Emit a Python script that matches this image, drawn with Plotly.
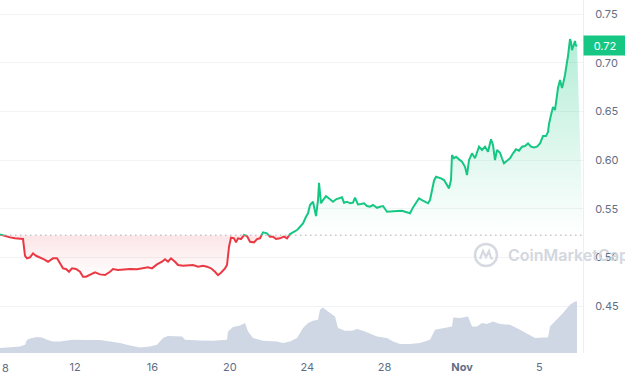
import pandas as pd
import plotly.graph_objects as go

# ---------------- data ----------------
start_date = pd.Timestamp("2023-10-08")

# price samples: day offset from Oct 8 00:00 and price in USD
price_days = [
    0.124, 0.382, 0.641, 0.899, 1.158, 1.313, 1.416, 1.519, 1.674, 1.829,
    1.984, 2.191, 2.398, 2.605, 2.760, 2.863, 3.070, 3.225, 3.380, 3.535,
    3.690, 3.845, 4.052, 4.258, 4.413, 4.568, 4.775, 5.034, 5.292, 5.550,
    5.809, 5.964, 6.222, 6.481, 6.842, 7.204, 7.514, 7.773, 7.979, 8.238,
    8.496, 8.651, 8.806, 8.961, 9.168, 9.323, 9.581, 9.840, 10.098, 10.357,
    10.615, 10.822, 11.028, 11.235, 11.390, 11.545, 11.752, 11.855, 11.959, 12.062,
    12.217, 12.320, 12.424, 12.579, 12.734, 12.889, 13.044, 13.251, 13.406, 13.561,
    13.716, 13.922, 14.077, 14.232, 14.388, 14.594, 14.801, 14.956, 15.111, 15.266,
    15.473, 15.628, 15.783, 15.938, 16.041, 16.145, 16.300, 16.455, 16.558, 16.610,
    16.713, 16.816, 16.971, 17.178, 17.333, 17.488, 17.695, 17.798, 17.902, 18.057,
    18.212, 18.367, 18.470, 18.625, 18.780, 18.935, 19.090, 19.245, 19.400, 19.607,
    19.762, 19.917, 20.124, 20.382, 20.641, 20.899, 21.106, 21.313, 21.468, 21.623,
    21.778, 21.933, 22.088, 22.243, 22.346, 22.450, 22.553, 22.656, 22.760, 22.915,
    23.070, 23.225, 23.328, 23.431, 23.483, 23.587, 23.690, 23.845, 24.000, 24.155,
    24.258, 24.362, 24.517, 24.672, 24.775, 24.879, 25.034, 25.189, 25.344, 25.447,
    25.499, 25.602, 25.705, 25.809, 25.964, 26.067, 26.171, 26.326, 26.481, 26.636,
    26.791, 26.946, 27.101, 27.256, 27.411, 27.566, 27.721, 27.876, 28.031, 28.186,
    28.341, 28.444, 28.496, 28.599, 28.703, 28.806, 28.909, 28.961, 29.065, 29.168,
    29.220, 29.323, 29.426, 29.478, 29.581, 29.633, 29.685, 29.736, 29.840, 29.891,
    29.943,
]
price = [
    0.5238, 0.5221, 0.5207, 0.5197, 0.5197, 0.5190, 0.5018, 0.4992, 0.5002, 0.5043,
    0.5018, 0.5002, 0.4982, 0.4957, 0.4974, 0.4992, 0.4992, 0.4940, 0.4889, 0.4882,
    0.4854, 0.4889, 0.4882, 0.4854, 0.4803, 0.4803, 0.4820, 0.4848, 0.4827, 0.4820,
    0.4854, 0.4882, 0.4872, 0.4879, 0.4882, 0.4879, 0.4889, 0.4899, 0.4889, 0.4930,
    0.4957, 0.4982, 0.4957, 0.4992, 0.4957, 0.4923, 0.4916, 0.4923, 0.4923, 0.4906,
    0.4916, 0.4906, 0.4889, 0.4854, 0.4820, 0.4844, 0.4889, 0.4923, 0.5111, 0.5203,
    0.5197, 0.5156, 0.5197, 0.5190, 0.5231, 0.5221, 0.5162, 0.5156, 0.5190, 0.5197,
    0.5259, 0.5248, 0.5214, 0.5214, 0.5190, 0.5197, 0.5214, 0.5197, 0.5241, 0.5255,
    0.5282, 0.5316, 0.5351, 0.5419, 0.5454, 0.5539, 0.5573, 0.5426, 0.5590, 0.5768,
    0.5557, 0.5590, 0.5631, 0.5598, 0.5573, 0.5598, 0.5608, 0.5618, 0.5563, 0.5573,
    0.5557, 0.5563, 0.5614, 0.5546, 0.5549, 0.5557, 0.5529, 0.5522, 0.5539, 0.5511,
    0.5522, 0.5529, 0.5470, 0.5470, 0.5477, 0.5480, 0.5470, 0.5454, 0.5515, 0.5557,
    0.5608, 0.5590, 0.5573, 0.5557, 0.5590, 0.5676, 0.5789, 0.5830, 0.5826, 0.5813,
    0.5796, 0.5744, 0.5710, 0.5796, 0.6052, 0.6019, 0.6035, 0.6008, 0.5984, 0.5932,
    0.5847, 0.6001, 0.6070, 0.6019, 0.6070, 0.6138, 0.6104, 0.6138, 0.6086, 0.6172,
    0.6214, 0.6155, 0.6001, 0.6104, 0.6076, 0.6019, 0.5967, 0.5994, 0.6019, 0.6070,
    0.6111, 0.6097, 0.6138, 0.6145, 0.6172, 0.6138, 0.6131, 0.6138, 0.6172, 0.6247,
    0.6247, 0.6289, 0.6371, 0.6463, 0.6545, 0.6514, 0.6658, 0.6740, 0.6822, 0.6740,
    0.6781, 0.6874, 0.7007, 0.7069, 0.7243, 0.7213, 0.7130, 0.7171, 0.7223, 0.7171,
    0.7182,
]

# trading volume samples (millions USD, relative)
volume_days = [
    0.124, 0.641, 1.158, 1.416, 1.519, 1.778, 2.036, 2.295, 2.553, 2.863,
    3.225, 3.587, 3.897, 4.620, 5.292, 5.809, 6.326, 6.842, 7.359, 7.876,
    8.238, 8.548, 8.806, 9.530, 9.685, 10.460, 11.132, 11.855, 11.907, 12.165,
    12.527, 12.786, 12.941, 13.199, 13.716, 14.439, 14.749, 15.111, 15.473, 15.783,
    16.041, 16.300, 16.558, 16.661, 16.816, 17.075, 17.437, 17.592, 17.953, 18.315,
    18.574, 18.884, 19.245, 19.607, 20.124, 20.434, 20.796, 21.313, 21.829, 22.346,
    22.605, 23.018, 23.483, 23.550, 23.897, 24.310, 24.517, 24.775, 25.034, 25.292,
    25.602, 25.964, 26.481, 26.997, 27.359, 27.773, 28.186, 28.444, 28.548, 28.909,
    29.220, 29.581, 29.840, 29.943,
]
volume_m = [
    2.0, 2.2, 2.6, 3.3, 5.3, 6.0, 6.4, 6.2, 5.3, 4.6,
    4.6, 5.0, 5.3, 5.2, 5.2, 4.6, 4.0, 3.0, 2.2, 2.6,
    3.3, 6.0, 6.8, 6.6, 5.3, 5.0, 4.9, 5.3, 8.6, 10.4,
    11.0, 12.0, 8.6, 6.0, 4.9, 4.6, 4.0, 4.6, 6.0, 10.0,
    12.0, 12.9, 13.3, 17.3, 18.2, 16.6, 14.6, 10.0, 8.9, 8.9,
    9.6, 8.9, 7.6, 6.6, 6.0, 4.6, 3.6, 3.6, 4.0, 5.3,
    9.3, 10.0, 10.6, 14.2, 14.0, 14.6, 10.6, 10.6, 12.0, 11.6,
    12.6, 11.6, 11.3, 9.3, 7.6, 6.0, 6.2, 6.2, 10.6, 13.3,
    16.0, 19.3, 20.6, 20.6,
]

baseline_price = 0.523
last_price_text = "0.72"

x_tick_dates = ["2023-10-12", "2023-10-16", "2023-10-20", "2023-10-24",
                "2023-10-28", "2023-11-01", "2023-11-05"]
x_tick_text = ["12", "16", "20", "24", "28", "<b>Nov</b>", "5"]
first_day_label = "8"
y_tick_vals = [0.45, 0.50, 0.55, 0.60, 0.65, 0.70, 0.75]
y_tick_text = ["0.45", "0.50", "0.55", "0.60", "0.65", "0.70", "0.75"]

# ---------------- styling ----------------
GREEN = "#16c784"
RED = "#ea3943"
VOL = "#cfd6e4"
LABEL = "#616e85"
FONT = "Inter, Roboto, sans-serif"

x_range = ["2023-10-08 02:58", "2023-11-07 06:04"]
y_range = [0.402, 0.7644]
vol_range = [0, 141.2]
split = (baseline_price - y_range[0]) / (y_range[1] - y_range[0])

price_t = start_date + pd.to_timedelta(price_days, unit="D")
vol_t = start_date + pd.to_timedelta(volume_days, unit="D")

fig = go.Figure()

# dotted reference line (opening price)
fig.add_trace(go.Scatter(
    x=x_range, y=[baseline_price, baseline_price], mode="lines",
    line=dict(color="#a9b0bc", width=1, dash="1.5px,3.5px"),
    hoverinfo="skip", showlegend=False, xaxis="x", yaxis="y"))

# red part (clipped below baseline via axis domain)
fig.add_trace(go.Scatter(
    x=x_range, y=[baseline_price, baseline_price], mode="lines",
    line=dict(width=0, color="rgba(0,0,0,0)"), hoverinfo="skip",
    showlegend=False, xaxis="x", yaxis="y2"))
fig.add_trace(go.Scatter(
    x=price_t, y=price, mode="lines", fill="tonexty",
    fillcolor="rgba(234,57,67,0.08)",
    fillgradient=dict(type="vertical", start=0.478, stop=baseline_price,
                      colorscale=[[0, "rgba(234,57,67,0)"], [1, "rgba(234,57,67,0.13)"]]),
    line=dict(color=RED, width=2), hoverinfo="skip", showlegend=False,
    xaxis="x", yaxis="y2"))

# green part (clipped above baseline)
fig.add_trace(go.Scatter(
    x=x_range, y=[baseline_price, baseline_price], mode="lines",
    line=dict(width=0, color="rgba(0,0,0,0)"), hoverinfo="skip",
    showlegend=False, xaxis="x", yaxis="y3"))
fig.add_trace(go.Scatter(
    x=price_t, y=price, mode="lines", fill="tonexty",
    fillcolor="rgba(22,199,132,0.1)",
    fillgradient=dict(type="vertical", start=baseline_price, stop=0.725,
                      colorscale=[[0, "rgba(22,199,132,0)"], [1, "rgba(22,199,132,0.32)"]]),
    line=dict(color=GREEN, width=2), hoverinfo="skip", showlegend=False,
    xaxis="x", yaxis="y3"))

# volume
fig.add_trace(go.Scatter(
    x=vol_t, y=volume_m, mode="lines", fill="tozeroy", fillcolor=VOL,
    line=dict(width=0, color=VOL), hoverinfo="skip", showlegend=False,
    xaxis="x", yaxis="y4"))

fig.update_layout(
    width=625, height=380,
    margin=dict(l=0, r=42, t=0, b=27),
    paper_bgcolor="white", plot_bgcolor="rgba(0,0,0,0)",
    font=dict(family=FONT, size=11, color=LABEL),
    showlegend=False,
    xaxis=dict(type="date", range=x_range, domain=[0, 1], anchor="y",
               tickvals=x_tick_dates, ticktext=x_tick_text,
               showgrid=False, zeroline=False, showline=False, ticks="",
               ticklabelstandoff=6,
               tickfont=dict(size=11, color=LABEL, family=FONT)),
    yaxis=dict(domain=[0, 1], range=y_range, side="right", anchor="x",
               tickvals=y_tick_vals, ticktext=y_tick_text,
               showgrid=True, gridcolor="#f2f3f5", gridwidth=1,
               zeroline=False, showline=True, linecolor="#eceef2", linewidth=1,
               ticks="", ticklabelstandoff=9,
               tickfont=dict(size=11, color=LABEL, family=FONT)),
    yaxis2=dict(domain=[0, split], range=[y_range[0], baseline_price],
                anchor="x", visible=False),
    yaxis3=dict(domain=[split, 1], range=[baseline_price, y_range[1]],
                anchor="x", visible=False),
    yaxis4=dict(domain=[0, 1], range=vol_range, anchor="x", visible=False),
)

# first-day label pushed inside the plot edge
fig.add_annotation(text=first_day_label, xref="paper", yref="paper",
                   x=0, y=0, xanchor="left", yanchor="top", yshift=-6,
                   showarrow=False, font=dict(size=11, color=LABEL, family=FONT))

# current price tag
fig.add_annotation(text=last_price_text, xref="paper", yref="y",
                   x=1, y=price[-1], xanchor="left", yanchor="middle",
                   showarrow=False, bgcolor=GREEN, width=38, height=15,
                   borderpad=2, font=dict(size=11, color="white", family=FONT))

# watermark
wm_x = 486 / 583
wm_y = (353 - 255) / 353
fig.add_shape(type="circle", xref="paper", yref="paper",
              xsizemode="pixel", ysizemode="pixel",
              xanchor=wm_x, yanchor=wm_y, x0=-11, x1=11, y0=-11, y1=11,
              line=dict(color="#d6dae0", width=2.5), layer="above")
fig.add_shape(type="path", xref="paper", yref="paper",
              xsizemode="pixel", ysizemode="pixel",
              xanchor=wm_x, yanchor=wm_y,
              path="M -6 -4 L -3 4 L 0 -2 L 3 4 L 5 -3 L 7 -4",
              line=dict(color="#d6dae0", width=2.2), layer="above")
fig.add_annotation(text="CoinMarketCap", xref="paper", yref="paper",
                   x=506 / 583, y=wm_y, xanchor="left", yanchor="middle",
                   showarrow=False,
                   font=dict(size=16, color="#d3d7de", family=FONT, weight=600))

fig.write_html("out.html",
               config={"displayModeBar": False, "staticPlot": True},
               post_script="document.body.style.margin='0';document.body.style.overflow='hidden';")
